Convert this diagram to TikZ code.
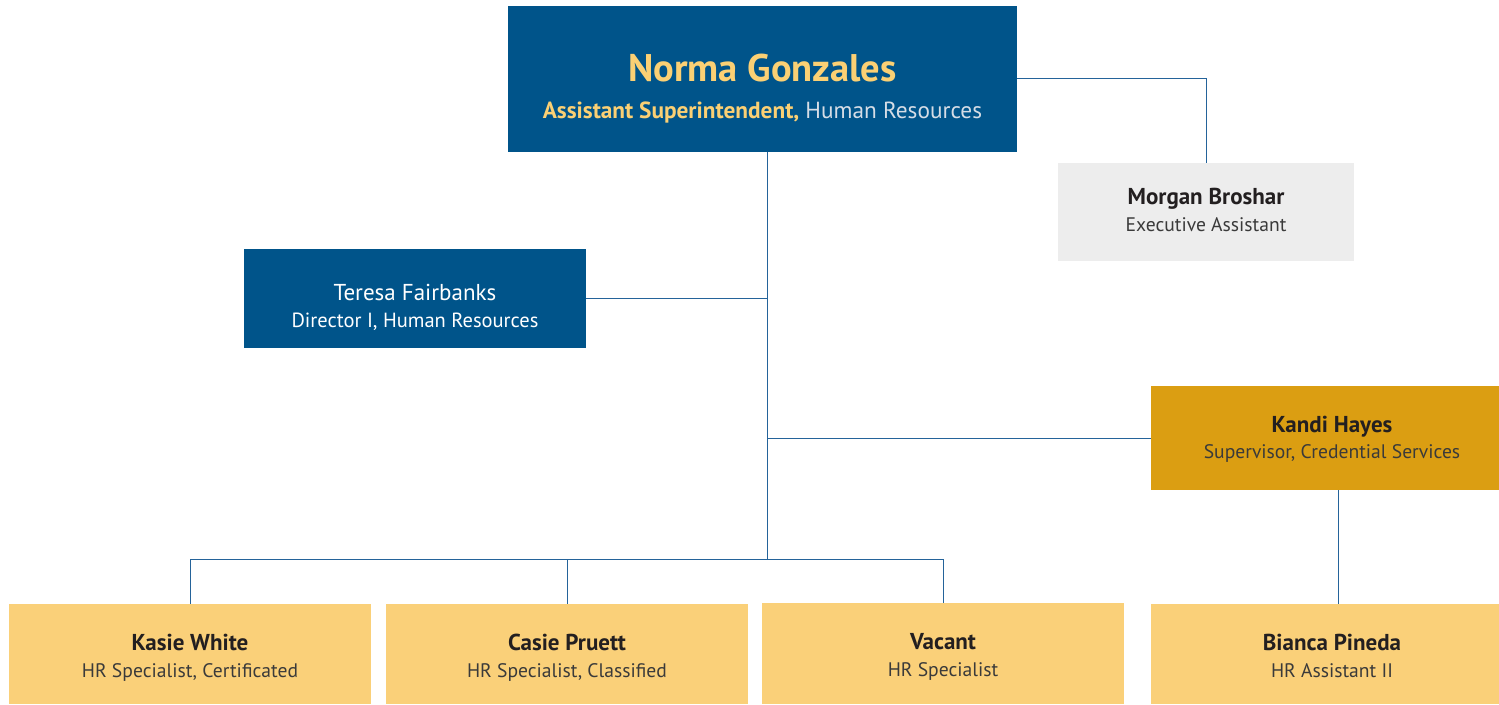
\documentclass[tikz,border=0pt]{standalone}
\usepackage{fontspec}
\setmainfont{PT Sans}
\definecolor{hrblue}{HTML}{00548A}
\definecolor{hryel}{HTML}{FBD074}
\definecolor{hrgray}{HTML}{EDEDED}
\definecolor{hrgold}{HTML}{DB9E12}
\definecolor{hrlight}{HTML}{FAD079}
\definecolor{hrline}{HTML}{24639A}
\definecolor{hrdark}{HTML}{231F20}
\definecolor{hrtitle}{HTML}{3A3A3A}
\definecolor{hrpale}{HTML}{D6DDE6}
\tikzset{
  box/.style={draw=none, inner sep=0pt},
  txt/.style={anchor=base, inner sep=0pt},
  nm/.style={txt, text=hrdark, font=\fontsize{23}{27}\selectfont\bfseries},
  tt/.style={txt, text=hrtitle, font=\fontsize{19.6}{24}\selectfont},
  conn/.style={draw=hrline, line width=0.9pt},
}
\begin{document}
\begin{tikzpicture}[x=1pt,y=-1pt]
\useasboundingbox (0,0) rectangle (1499,704);
% boxes
\node[box, fill=hrblue, minimum width=509pt, minimum height=146pt] (norma) at (762.5,79) {};
\node[box, fill=hrgray, minimum width=296pt, minimum height=98pt] (morgan) at (1206,212) {};
\node[box, fill=hrblue, minimum width=342pt, minimum height=99pt] (teresa) at (415,298.5) {};
\node[box, fill=hrgold, minimum width=348pt, minimum height=104pt] (kandi) at (1325,438) {};
\node[box, fill=hrlight, minimum width=362pt, minimum height=100pt] (kasie) at (190,654) {};
\node[box, fill=hrlight, minimum width=362pt, minimum height=100pt] (casie) at (567,654) {};
\node[box, fill=hrlight, minimum width=362pt, minimum height=101pt] (vacant) at (943,653.5) {};
\node[box, fill=hrlight, minimum width=348pt, minimum height=100pt] (bianca) at (1325,654) {};
% texts (anchored at baselines)
\node[txt, text=hryel, font=\fontsize{38.5}{42}\selectfont\bfseries] (normaN) at (762.5,81) {Norma Gonzales};
\node[txt, font=\fontsize{23.3}{27}\selectfont] (normaT) at (762.5,118) {\textcolor{hryel}{\bfseries Assistant Superintendent,} \textcolor{hrpale}{Human Resources}};
\node[nm] (morganN) at (1206,204) {Morgan Broshar};
\node[tt] (morganT) at (1206,231) {Executive Assistant};
\node[txt, text=white, font=\fontsize{23}{27}\selectfont] (teresaN) at (415,300) {Teresa Fairbanks};
\node[txt, text=white, font=\fontsize{20.5}{24}\selectfont] (teresaT) at (415,327) {Director I, Human Resources};
\node[nm] (kandiN) at (1332,432) {Kandi Hayes};
\node[tt] (kandiT) at (1332,458) {Supervisor, Credential Services};
\node[nm] (kasieN) at (190,650) {Kasie White};
\node[tt] (kasieT) at (190,677) {HR Specialist, Certificated};
\node[nm] (casieN) at (567,650) {Casie Pruett};
\node[tt] (casieT) at (567,677) {HR Specialist, Classified};
\node[nm] (vacantN) at (943,649) {Vacant};
\node[tt] (vacantT) at (943,676) {HR Specialist};
\node[nm] (biancaN) at (1332,650) {Bianca Pineda};
\node[tt] (biancaT) at (1332,677) {HR Assistant II};
% connectors
\coordinate (trunk) at (767,559);
\coordinate (bus) at (190,559);
\draw[conn] (norma.east |- 0,78) -| (morgan.north);
\draw[conn] (norma.south -| trunk) -- (trunk);
\draw[conn] (teresa.east) -- (teresa.east -| trunk);
\draw[conn] (kandi.west) -- (kandi.west -| trunk);
\draw[conn] (kasie.north) -- (bus) -- (bus -| vacant.north) -- (vacant.north);
\draw[conn] (casie.north) -- (casie.north |- bus);
\draw[conn] (kandi.south -| 1338,0) -- (bianca.north -| 1338,0);
\end{tikzpicture}
\end{document}
